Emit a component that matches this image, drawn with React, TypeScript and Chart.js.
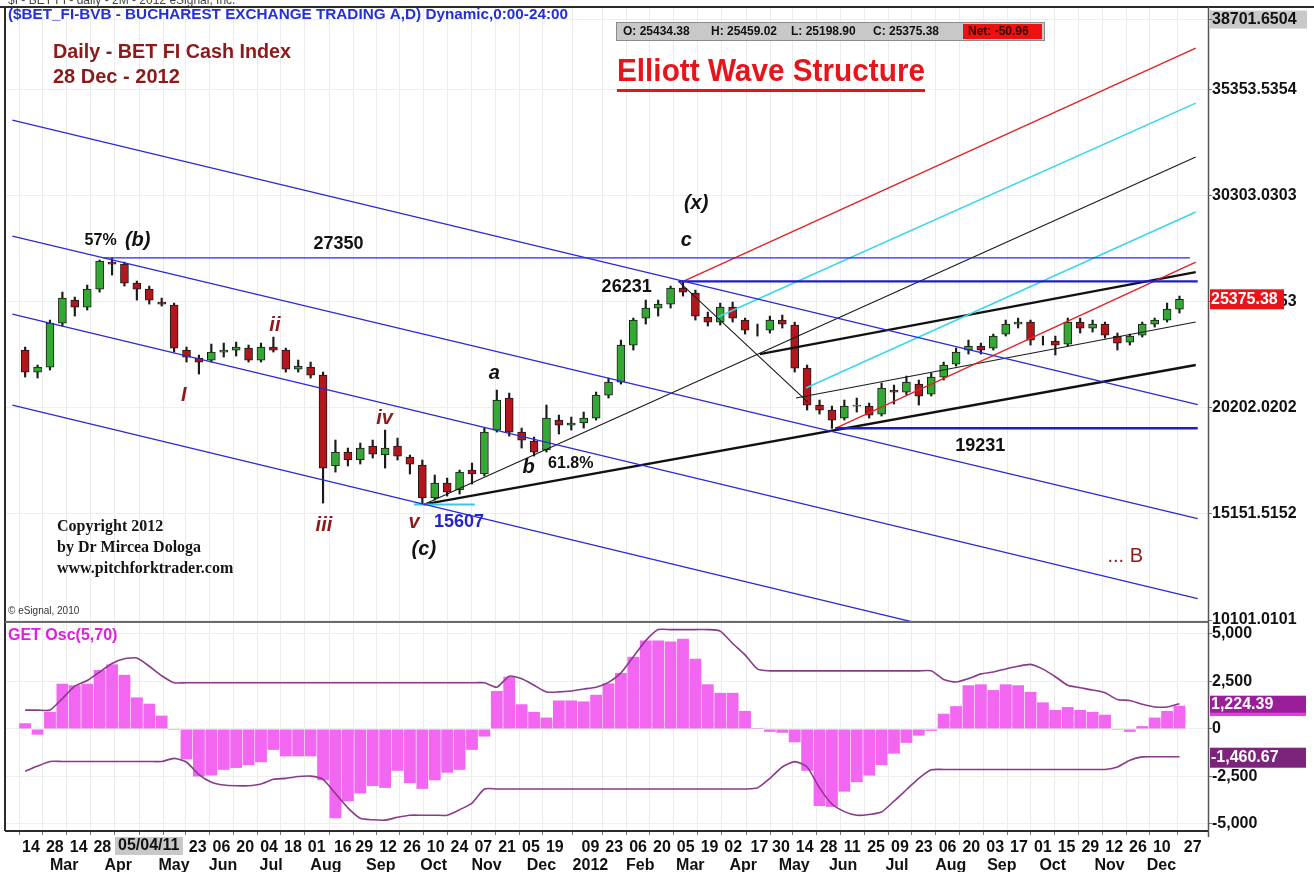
import { useEffect, useRef } from "react";
import { Chart, registerables } from "chart.js";

Chart.register(...registerables);

const SANS = "'Liberation Sans', Arial, Helvetica, sans-serif";
const SERIF = "'Liberation Serif', 'Times New Roman', serif";

// ---- Weekly price bars (bar index -1 .. 92), BET-FI ----
const opens = [22958,21910,22149,24244,25339,25006,25863,27149,27053,26148,
  25863,25244,25101,22958,22577,22482,22863,22958,23053,22482,
  23101,22958,22053,22149,21767,17434,18100,17720,18386,17958,
  18386,17862,17481,15910,16624,16291,17243,17053,19148,20672,
  19053,18624,18196,19624,19386,19482,19720,20815,21434,23196,
  24482,24958,25149,25910,25672,24530,24291,25006,24387,23911,
  23911,24387,24149,22101,20339,20101,19720,20291,20291,19910,
  21053,20958,21339,20862,21672,22291,22958,23149,23053,23720,
  24196,24291,23434,23387,23244,24291,24006,24196,23625,23339,
  23672,24196,24387,24910];
const highs = [23101,22244,24387,25720,25482,26053,27244,27350,27149,26244,
  26006,25434,25196,23101,22720,23244,23292,23339,23196,23292,
  23577,23053,22482,22387,21910,18672,18291,18529,18672,19148,
  18767,17958,17720,17005,16862,17243,17577,19243,21053,20910,
  19243,18815,20339,19862,19767,20005,20958,21625,23434,24482,
  25339,25339,26006,26231,25815,24768,25196,25244,24482,24196,
  24577,24625,24291,22244,20577,20291,20577,20672,20434,21386,
  21291,21720,21529,21863,22387,23053,23434,23292,23720,24387,
  24482,24387,23625,23625,24482,24482,24387,24291,23768,23720,
  24291,24482,25196,25530];
const lows = [21672,21625,22006,24101,24577,24863,25720,26530,26006,25339,
  25149,25053,22863,22387,21815,22387,22625,22672,22387,22387,
  22863,21910,21910,21625,15672,17148,17434,17529,17815,17338,
  17720,17053,15607,15815,16005,16100,16576,16957,19053,18862,
  18291,17910,18100,18958,19148,19243,19624,20672,21339,22958,
  24196,24577,24958,25530,24387,24101,24149,24291,23720,23625,
  23768,24006,21910,20101,19910,19231,19624,20005,19720,19815,
  20386,20815,20339,20767,21529,22196,22768,22768,22958,23625,
  24006,23196,23196,22720,23149,23768,23815,23530,22958,23196,
  23577,24053,24291,24720];
const closes = [21910,22149,24244,25434,25006,25863,27196,27053,26148,25863,
  25339,25149,23053,22625,22387,22863,22958,23101,22482,23101,
  22958,22053,22196,21767,17338,18100,17720,18291,18005,18291,
  17910,17529,15910,16624,16195,17148,17053,19053,20577,19053,
  18672,18100,19720,19386,19482,19720,20815,21434,23196,24387,
  24958,25149,25910,25720,24577,24291,25006,24482,23911,23911,
  24387,24196,22101,20339,20101,19624,20291,20339,19862,21148,
  20958,21434,20767,21672,22244,22863,23149,22958,23625,24196,
  24291,23434,23434,23196,24291,24006,24196,23672,23292,23625,
  24196,24387,24910,25375.38];

// ---- GET Osc(5,70) histogram and its bands ----
const oscValues = [300,-300,900,2380,2300,2380,3100,3400,2850,1660,
  1330,700,-50,-1600,-2500,-2450,-2150,-2050,-1900,-1750,
  -1100,-1440,-1440,-1440,-2700,-4700,-3800,-3400,-3000,-3100,
  -2200,-2850,-3150,-2700,-2300,-2150,-1100,-400,2000,2750,
  1300,900,600,1500,1500,1450,1800,2400,2950,3800,
  4650,4650,4600,4750,3700,2350,1900,1900,950,50,
  -150,-200,-700,-2200,-4050,-4100,-3300,-2800,-2450,-1900,
  -1300,-730,-350,-100,800,1200,2300,2350,2050,2350,
  2300,1950,1400,1000,1150,1000,900,750,-50,-150,
  150,600,950,1224.39];
const oscUpper = [990,990,1000,1600,2250,2550,3000,3450,3700,3730,
  3300,2800,2430,2430,2430,2430,2430,2430,2430,2430,
  2430,2430,2430,2430,2430,2430,2430,2430,2430,2430,
  2430,2430,2430,2430,2430,2430,2430,2430,2200,2780,
  2640,2300,1950,1950,2000,2100,2200,2450,2950,3800,
  4650,5230,5230,5230,5230,5230,5150,4500,3900,3150,
  3060,3060,3060,3060,3060,3060,3060,3060,3060,3060,
  3060,3060,3060,3060,2600,2470,2650,2900,3000,3160,
  3300,3400,3150,2750,2300,2170,2050,1900,1550,1500,
  1300,1160,1160,1330];
const oscLower = [-2230,-1950,-1710,-1710,-1710,-1710,-1710,-1710,-1710,-1710,
  -1710,-1710,-1550,-1750,-2400,-2800,-2950,-2990,-2990,-2900,
  -2650,-2600,-2500,-2480,-2650,-3400,-4150,-4700,-4780,-4800,
  -4650,-4540,-4540,-4540,-4540,-4250,-3900,-3160,-3160,-3160,
  -3160,-3160,-3160,-3160,-3160,-3160,-3160,-3160,-3160,-3160,
  -3160,-3160,-3160,-3160,-3160,-3160,-3160,-3160,-3160,-3100,
  -2600,-2000,-1720,-2000,-3100,-3950,-4350,-4540,-4500,-4370,
  -3800,-3200,-2600,-2150,-2130,-2130,-2130,-2130,-2130,-2130,
  -2130,-2130,-2130,-2130,-2130,-2130,-2130,-2130,-2000,-1650,
  -1470,-1460,-1460,-1460.67];

const barIndex = opens.map((_, i) => i - 1);

// ---- Axis ticks ----
const dayTickPos = [-0.53,1.39,3.31,5.22,7.14,9.25,10.98,12.90,14.81,16.73,18.65,20.57,22.49,24.59,26.32,28.24,30.16,32.08,33.99,35.91,37.83,39.75,41.67,
  44.54,46.46,48.38,50.30,52.22,54.14,56.05,58.16,59.89,61.81,63.73,65.64,67.56,69.48,71.40,73.32,75.23,77.15,79.07,80.99,82.90,84.82,86.74,88.66,90.58,93.07];
const dayTickLabels = ["14","28","14","28","11","26","09","23","06","20","04","18","01","16","29","12","26","10","24","07","21","05","19",
  "09","23","06","20","05","19","02","17","30","14","28","11","25","09","23","06","20","03","17","01","15","29","12","26","10","27"];
const monthLabels = ["Mar","Apr","May","Jun","Jul","Aug","Sep","Oct","Nov","Dec","2012","Feb","Mar","Apr","May","Jun","Jul","Aug","Sep","Oct","Nov","Dec"];
const monthPos = [2.15,6.50,10.99,14.94,18.81,23.23,27.65,31.91,36.17,40.59,44.54,48.56,52.59,56.85,60.96,64.90,69.24,73.58,77.69,81.79,86.37,90.55];
const priceTicks = [10101.0101,15151.5152,20202.0202,25252.5253,30303.0303,35353.5354,38701.6504];
const oscTicks = [5000,2500,0,-2500,-5000];

// ---- Drawn studies: [x1, price1, x2, price2] ----
const pitchforkChannel = [[-2.03,33906,93.47,20363],[-2.03,28382,93.47,14934],[-2.03,24668,93.47,11124],[-2.03,20334,93.47,6739]];
const thinLevels = [[5.31,27350,92.84,27350]];
const thickLevels = [[51.64,26231,93.47,26231],[64.27,19231,93.47,19231]];
const lowMarker = [[30.33,15607,35.23,15607]];
const blackThick = [[31.12,15607,93.31,22244],[58.19,22767,93.31,26672]];
const blackThin = [[61.11,20672,93.31,24291],[31.12,15607,93.31,32149],[51.64,26231,62.06,20482]];
const redFan = [[51.88,26196,93.31,37339],[64.27,19231,93.31,27149]];
const cyanFan = [[54.80,24529,93.31,34720],[61.90,21149,93.31,29530]];

const DARK_RED = "#8b1a1a";
const waveLabels = [
  { t: "57%", x: 5.08, y: 28149, f: "bold 16px", c: "#111" },
  { t: "(b)", x: 8.07, y: 28196, f: "italic bold 20px", c: "#111" },
  { t: "27350", x: 24.25, y: 28006, f: "bold 18px", c: "#111" },
  { t: "(x)", x: 53.06, y: 29958, f: "italic bold 20px", c: "#111" },
  { t: "c", x: 52.27, y: 28196, f: "italic bold 20px", c: "#111" },
  { t: "26231", x: 47.46, y: 25958, f: "bold 18px", c: "#111" },
  { t: "ii", x: 19.12, y: 24149, f: "italic bold 20px", c: DARK_RED },
  { t: "I", x: 11.78, y: 20815, f: "italic bold 20px", c: DARK_RED },
  { t: "iv", x: 27.96, y: 19720, f: "italic bold 20px", c: DARK_RED },
  { t: "a", x: 36.80, y: 21863, f: "italic bold 20px", c: "#111" },
  { t: "b", x: 39.56, y: 17386, f: "italic bold 20px", c: "#111" },
  { t: "61.8%", x: 42.96, y: 17529, f: "bold 16px", c: "#111" },
  { t: "iii", x: 23.07, y: 14624, f: "italic bold 20px", c: DARK_RED },
  { t: "v", x: 30.33, y: 14767, f: "italic bold 20px", c: DARK_RED },
  { t: "15607", x: 33.96, y: 14767, f: "bold 18px", c: "#2525cf" },
  { t: "(c)", x: 31.12, y: 13481, f: "italic bold 20px", c: "#111" },
  { t: "19231", x: 75.95, y: 18386, f: "bold 18px", c: "#111" },
  { t: "... B", x: 87.63, y: 13148, f: "20px", c: DARK_RED },
];

const UP = "#33a833";
const DOWN = "#b3161b";

function seg(s: number[], color: string, width: number) {
  return {
    type: "line",
    data: [{ x: s[0], y: s[1] }, { x: s[2], y: s[3] }],
    borderColor: color,
    borderWidth: width,
    pointRadius: 0,
    tension: 0,
    fill: false,
    clip: 0,
    yAxisID: "y",
    order: 1,
  };
}

function fitText(ctx: CanvasRenderingContext2D, str: string, x: number, y: number, width: number) {
  const w = ctx.measureText(str).width;
  ctx.save();
  ctx.translate(x, y);
  ctx.scale(width / w, 1);
  ctx.textAlign = "left";
  ctx.fillText(str, 0, 0);
  ctx.restore();
}

const overlay = {
  id: "overlay",
  beforeDraw(chart: any) {
    const ctx = chart.ctx as CanvasRenderingContext2D;
    const ys = chart.scales.y;
    ctx.save();
    ctx.fillStyle = "#ffffff";
    ctx.fillRect(0, 0, chart.width, chart.height);
    const yTop = ys.getPixelForValue(priceTicks[priceTicks.length - 1]);
    ctx.fillStyle = "#c9c9c9";
    ctx.fillRect(ys.left + 2, yTop - 9, 97, 18);
    ctx.restore();
  },
  afterDatasetsDraw(chart: any) {
    const ctx = chart.ctx as CanvasRenderingContext2D;
    const xs = chart.scales.x;
    const ys = chart.scales.y;
    ctx.save();
    ctx.textAlign = "center";
    ctx.textBaseline = "middle";
    for (const l of waveLabels) {
      ctx.font = `${l.f} ${SANS}`;
      ctx.fillStyle = l.c;
      ctx.fillText(l.t, xs.getPixelForValue(l.x), ys.getPixelForValue(l.y));
    }
    ctx.restore();
  },
  afterDraw(chart: any) {
    const ctx = chart.ctx as CanvasRenderingContext2D;
    const area = chart.chartArea;
    const xs = chart.scales.x;
    const ys = chart.scales.y;
    const yo = chart.scales.yOsc;
    ctx.save();

    // frame
    ctx.strokeStyle = "#2a2a2a";
    ctx.lineWidth = 2;
    ctx.beginPath();
    ctx.moveTo(0, 7); ctx.lineTo(chart.width, 7);
    ctx.moveTo(5, 7); ctx.lineTo(5, area.bottom);
    ctx.moveTo(5, area.bottom); ctx.lineTo(area.right, area.bottom);
    ctx.stroke();
    ctx.strokeStyle = "#6a6a6a";
    ctx.beginPath();
    ctx.moveTo(5, ys.bottom); ctx.lineTo(area.right, ys.bottom);
    ctx.stroke();
    ctx.lineWidth = 1.5;
    ctx.strokeStyle = "#555";
    ctx.beginPath();
    ctx.moveTo(area.right + 0.5, 7); ctx.lineTo(area.right + 0.5, area.bottom + 6);
    ctx.stroke();

    // window caption (cut)
    ctx.textBaseline = "alphabetic";
    ctx.textAlign = "left";
    ctx.fillStyle = "#444";
    ctx.font = `12px ${SANS}`;
    ctx.fillText("$I - BET FI - daily - 2M - 2012 eSignal, Inc.", 8, 4);

    ctx.textBaseline = "middle";
    // symbol header
    ctx.fillStyle = "#2230d8";
    ctx.font = `bold 15px ${SANS}`;
    fitText(ctx, "($BET_FI-BVB - BUCHAREST EXCHANGE TRADING Ā,D) Dynamic,0:00-24:00", 8, 15, 560);

    // chart titles
    ctx.fillStyle = DARK_RED;
    ctx.font = `bold 20px ${SANS}`;
    fitText(ctx, "Daily - BET FI Cash Index", 53, 52, 238);
    ctx.fillText("28 Dec - 2012", 53, 77);

    ctx.fillStyle = "#e8141a";
    ctx.font = `bold 32px ${SANS}`;
    fitText(ctx, "Elliott Wave Structure", 617, 72, 308);
    ctx.fillRect(617, 89, 308, 3);

    // OHLC data box
    ctx.fillStyle = "#c8c8c8";
    ctx.fillRect(616, 22, 429, 19);
    ctx.strokeStyle = "#8a8a8a";
    ctx.lineWidth = 1;
    ctx.strokeRect(616.5, 22.5, 428, 18);
    ctx.fillStyle = "#ee1111";
    ctx.fillRect(963, 24, 79, 15);
    ctx.font = `bold 12px ${SANS}`;
    ctx.fillStyle = "#111";
    ctx.fillText("O: 25434.38", 623, 32);
    ctx.fillText("H: 25459.02", 711, 32);
    ctx.fillText("L: 25198.90", 791, 32);
    ctx.fillText("C: 25375.38", 873, 32);
    ctx.fillStyle = "#3a0000";
    ctx.fillText("Net: -50.96", 968, 32);

    // copyright
    ctx.fillStyle = "#151515";
    ctx.font = `bold 16px ${SERIF}`;
    ctx.fillText("Copyright 2012", 57, 527);
    ctx.fillText("by Dr Mircea Dologa", 57, 548);
    ctx.fillText("www.pitchforktrader.com", 57, 569);
    ctx.font = `10px ${SANS}`;
    ctx.fillStyle = "#333";
    ctx.fillText("© eSignal, 2010", 8, ys.bottom - 11);

    // oscillator caption
    ctx.font = `bold 16px ${SANS}`;
    ctx.fillStyle = "#e01ee0";
    ctx.fillText("GET Osc(5,70)", 8, yo.top + 14);

    // right-axis value boxes
    const lastClose = closes[closes.length - 1];
    const yc = ys.getPixelForValue(lastClose);
    ctx.fillStyle = "#e8141a";
    ctx.fillRect(area.right + 2, yc - 10, 74, 20);
    ctx.fillStyle = "#ffffff";
    ctx.font = `bold 16px ${SANS}`;
    ctx.fillText(lastClose.toFixed(2), area.right + 3, yc);

    const lastOsc = oscValues[oscValues.length - 1];
    const yh = yo.getPixelForValue(lastOsc);
    ctx.fillStyle = "#9a1e9a";
    ctx.fillRect(area.right + 2, yh - 10, 96, 20);
    ctx.fillStyle = "#e040e0";
    ctx.fillRect(area.right + 2, yh + 7, 96, 3);
    ctx.fillStyle = "#ffffff";
    ctx.fillText(lastOsc.toLocaleString("en-US", { minimumFractionDigits: 2 }), area.right + 3, yh - 1);

    const lastLow = oscLower[oscLower.length - 1];
    const yl = yo.getPixelForValue(lastLow);
    ctx.fillStyle = "#7c237c";
    ctx.fillRect(area.right + 2, yl - 9, 96, 20);
    ctx.fillStyle = "#ffffff";
    ctx.fillText(lastLow.toLocaleString("en-US", { minimumFractionDigits: 2 }), area.right + 3, yl + 1);

    // month row
    ctx.textAlign = "center";
    ctx.fillStyle = "#111";
    ctx.font = `bold 16px ${SANS}`;
    monthLabels.forEach((m, i) => ctx.fillText(m, xs.getPixelForValue(monthPos[i]), area.bottom + 35));

    // cursor date box on the time axis
    ctx.fillStyle = "#c8c8c8";
    ctx.fillRect(115, area.bottom + 6, 68, 18);
    ctx.fillStyle = "#111";
    ctx.textAlign = "left";
    ctx.fillText("05/04/11", 118, area.bottom + 15);

    ctx.restore();
  },
};

export default function App() {
  const ref = useRef<HTMLCanvasElement>(null);

  useEffect(() => {
    const canvas = ref.current;
    if (!canvas) return;
    Chart.defaults.font.family = SANS;

    const datasets: any[] = [
      {
        type: "bar",
        data: barIndex.map((x, i) => ({ x, y: [lows[i], highs[i]] })),
        backgroundColor: "#1a1a1a",
        barThickness: 1.5,
        grouped: false,
        yAxisID: "y",
        order: 6,
      },
      {
        type: "bar",
        data: barIndex.map((x, i) => ({ x, y: [opens[i], closes[i]] })),
        backgroundColor: barIndex.map((_, i) => (closes[i] >= opens[i] ? UP : DOWN)),
        borderColor: "#1a1a1a",
        borderWidth: 1,
        borderSkipped: false,
        barThickness: 8,
        grouped: false,
        yAxisID: "y",
        order: 5,
      },
      {
        type: "bar",
        data: barIndex.map((x, i) => ({ x, y: oscValues[i] })),
        backgroundColor: "#f266f2",
        barPercentage: 0.95,
        categoryPercentage: 1,
        grouped: false,
        yAxisID: "yOsc",
        order: 4,
      },
      {
        type: "line",
        data: barIndex.map((x, i) => ({ x, y: oscUpper[i] })),
        borderColor: "#8a3a8a",
        borderWidth: 1.6,
        pointRadius: 0,
        tension: 0.2,
        clip: 0,
        yAxisID: "yOsc",
        order: 3,
      },
      {
        type: "line",
        data: barIndex.map((x, i) => ({ x, y: oscLower[i] })),
        borderColor: "#8a3a8a",
        borderWidth: 1.6,
        pointRadius: 0,
        tension: 0.2,
        clip: 0,
        yAxisID: "yOsc",
        order: 3,
      },
      ...pitchforkChannel.map((s) => seg(s, "#2a2ad6", 1.3)),
      ...thinLevels.map((s) => seg(s, "#2a2ad6", 1.3)),
      ...thickLevels.map((s) => seg(s, "#1c1cd0", 2.4)),
      ...lowMarker.map((s) => seg(s, "#35c8e8", 2)),
      ...redFan.map((s) => seg(s, "#e32222", 1.4)),
      ...cyanFan.map((s) => seg(s, "#3ad6ea", 1.6)),
      ...blackThin.map((s) => seg(s, "#1a1a1a", 1.1)),
      ...blackThick.map((s) => seg(s, "#111111", 2.4)),
    ];

    const chart = new Chart(canvas, {
      type: "bar",
      data: { datasets },
      options: {
        animation: false,
        responsive: false,
        devicePixelRatio: 1,
        layout: { padding: { left: 6, top: 8, right: 0, bottom: 0 } },
        plugins: { legend: { display: false }, tooltip: { enabled: false } },
        scales: {
          x: {
            type: "linear",
            min: -1.555,
            max: 93.31,
            afterBuildTicks: (s: any) => {
              s.ticks = dayTickPos.map((value) => ({ value }));
            },
            afterFit: (s: any) => {
              s.height = 41;
              s.paddingLeft = 0;
              s.paddingRight = 0;
            },
            ticks: {
              autoSkip: false,
              maxRotation: 0,
              minRotation: 0,
              padding: 3,
              color: "#111",
              font: { family: SANS, size: 16, weight: "bold" },
              callback: (_v: any, i: number) => dayTickLabels[i] ?? "",
            },
            grid: { color: "#ebebeb", tickLength: 4, tickColor: "#777" },
            border: { display: false },
          },
          y: {
            type: "linear",
            position: "right",
            stack: "panes",
            stackWeight: 614,
            min: 10006,
            max: 39250,
            afterBuildTicks: (s: any) => {
              s.ticks = priceTicks.map((value) => ({ value }));
            },
            afterFit: (s: any) => {
              s.width = 106;
              s.paddingTop = 0;
              s.paddingBottom = 0;
            },
            ticks: {
              autoSkip: false,
              padding: 0,
              color: "#111",
              font: { family: SANS, size: 16, weight: "bold" },
              callback: (v: any) => Number(v).toFixed(4),
            },
            grid: { color: "#eeeeee", tickLength: 4, tickColor: "#777" },
            border: { display: false },
          },
          yOsc: {
            type: "linear",
            position: "right",
            stack: "panes",
            stackWeight: 209,
            min: -5370,
            max: 5630,
            afterBuildTicks: (s: any) => {
              s.ticks = oscTicks.map((value) => ({ value }));
            },
            afterFit: (s: any) => {
              s.width = 106;
              s.paddingTop = 0;
              s.paddingBottom = 0;
            },
            ticks: {
              autoSkip: false,
              padding: 0,
              color: "#111",
              font: { family: SANS, size: 16, weight: "bold" },
              callback: (v: any) => Number(v).toLocaleString("en-US"),
            },
            grid: { color: "#eeeeee", tickLength: 4, tickColor: "#777" },
            border: { display: false },
          },
        },
      } as any,
      plugins: [overlay],
    } as any);

    return () => chart.destroy();
  }, []);

  return (
    <div style={{ position: "fixed", left: 0, top: 0, width: 1314, height: 872, background: "#fff" }}>
      <canvas ref={ref} width={1314} height={872} style={{ display: "block", width: 1314, height: 872 }} />
    </div>
  );
}
